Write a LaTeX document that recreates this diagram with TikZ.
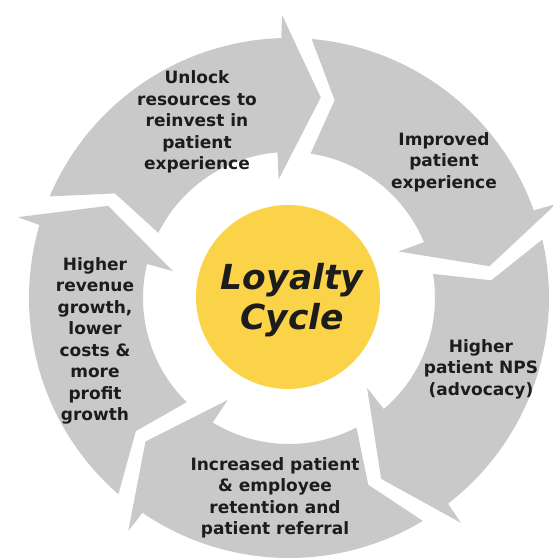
\documentclass[tikz,border=0pt]{standalone}
\usepackage{fontspec}
\setmainfont{DejaVu Sans}

\definecolor{cyclegray}{RGB}{201,201,201}
\definecolor{cycleyellow}{RGB}{250,211,72}
\definecolor{cycletext}{RGB}{28,28,28}

\tikzset{
    segfill/.style={fill=cyclegray},
    steplabel/.style={align=center, inner sep=0pt, text=cycletext,
        font=\bfseries\fontsize{17}{21.5}\selectfont},
    hubdisc/.style={circle, fill=cycleyellow, minimum size=184pt, inner sep=0pt},
}

\begin{document}
\begin{tikzpicture}[x=1pt,y=1pt]
    \useasboundingbox (0,0) rectangle (552,560);

    % Arrow segments
    \begin{scope}[shift={(289,262)}]
        \foreach \t in {81,9,-63,-135,-207}{
            \pgfmathsetmacro{\p}{\t+72}
            \fill[segfill] ({\p+4}:260) arc[start angle=\p+4, end angle=\t+10.7, radius=260]
                -- ({\t+10.4}:283) -- (\t:203) -- ({\t+14}:119) -- ({\t+13.5}:146)
                arc[start angle=\t+13.5, end angle=\p+0.5, radius=146]
                -- ({\p-4}:203) -- cycle;
        }
    \end{scope}

    % Centre
    \node[hubdisc] (hub) at (288,263) {};
    \node[text=cycletext, align=center, inner sep=0pt,
        font=\bfseries\itshape\fontsize{34.5}{40}\selectfont] (loyalty) at (292,260) {Loyalty\\Cycle};

    % Step texts
    \node[steplabel] (unlock) at (197,438) {Unlock\\resources to\\reinvest in\\patient\\experience};
    \node[steplabel] (improved) at (444,398) {Improved\\patient\\experience};
    \node[steplabel] (nps) at (481,191) {Higher\\patient NPS\\(advocacy)};
    \node[steplabel] (retention) at (275,62) {Increased patient\\\& employee\\retention and\\patient referral};
    \node[steplabel] (revenue) at (95,219) {Higher\\revenue\\growth,\\lower\\costs \&\\more\\profit\\growth};
\end{tikzpicture}
\end{document}
